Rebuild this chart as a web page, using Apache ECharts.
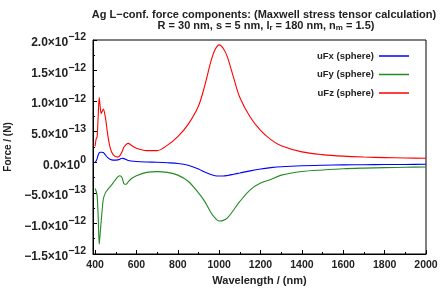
<!DOCTYPE html>
<html>
<head>
<meta charset="utf-8">
<script src="https://cdn.jsdelivr.net/npm/echarts@6/dist/echarts.min.js"></script>
<style>
html, body { margin: 0; padding: 0; background: #fff; }
#chart { width: 440px; height: 288px; }
</style>
</head>
<body>
<div id="chart"></div>
<script>
// wavelength in nm, forces in units of 1e-12 N
var wavelength = [400, 405, 410, 415, 420, 425, 430, 440, 450, 460, 470, 480, 495, 510, 520, 530, 540, 550, 560, 575,
  600, 650, 700, 750, 800, 850, 900, 930, 960, 980, 1000, 1020, 1040, 1070, 1100, 1150, 1200, 1250, 1300,
  1400, 1500, 1600, 1700, 1800, 1900, 2000];
var uFx = [0.0, 0.02, 0.06, 0.12, 0.155, 0.165, 0.165, 0.16, 0.12, 0.08, 0.055, 0.04, 0.035, 0.04, 0.05, 0.065, 0.06, 0.045, 0.03, 0.02,
  0.012, 0.005, 0.0, -0.008, -0.02, -0.05, -0.11, -0.16, -0.2, -0.22, -0.225, -0.225, -0.215, -0.195, -0.175, -0.14, -0.11, -0.088, -0.072,
  -0.056, -0.048, -0.043, -0.04, -0.037, -0.035, -0.033];
var uFy = [-0.43, -0.47, -0.55, -0.88, -1.34, -1.15, -0.95, -0.6, -0.5, -0.45, -0.41, -0.37, -0.3, -0.24, -0.22, -0.25, -0.35, -0.36, -0.32, -0.27,
  -0.22, -0.165, -0.152, -0.165, -0.21, -0.31, -0.5, -0.64, -0.82, -0.91, -0.96, -0.95, -0.91, -0.78, -0.64, -0.45, -0.34, -0.28, -0.21,
  -0.15, -0.125, -0.105, -0.095, -0.088, -0.082, -0.077];
var uFz = [0.26, 0.38, 0.42, 0.75, 1.06, 0.9, 0.8, 0.87, 0.73, 0.48, 0.28, 0.17, 0.1, 0.085, 0.11, 0.17, 0.25, 0.29, 0.31, 0.28,
  0.23, 0.19, 0.19, 0.28, 0.42, 0.62, 0.92, 1.25, 1.65, 1.84, 1.92, 1.86, 1.72, 1.38, 1.06, 0.74, 0.52, 0.37, 0.27,
  0.17, 0.125, 0.1, 0.086, 0.077, 0.07, 0.065];

var xTicks = [400, 600, 800, 1000, 1200, 1400, 1600, 1800, 2000];
var xMinorTicks = [500, 700, 900, 1100, 1300, 1500, 1700, 1900];
var yTickValues = [-1.5, -1.0, -0.5, 0, 0.5, 1.0, 1.5, 2.0];
var yMantissa = ['\u22121.5', '\u22121.0', '\u22125.0', '0.0', '5.0', '1.0', '1.5', '2.0'];
var yExponent = ['\u221212', '\u221212', '\u221213', '0', '\u221213', '\u221212', '\u221212', '\u221212'];

function pairs(ys) {
  return wavelength.map(function (w, i) { return [w, ys[i]]; });
}

var font = 'Liberation Sans, Arial, sans-serif';
var black = '#000';
var ink = '#222';

var chart = echarts.init(document.getElementById('chart'));
chart.setOption({
  animation: false,
  textStyle: { fontFamily: font },
  title: [
    {
      text: 'Ag L\u2212conf. force components: (Maxwell stress tensor calculation)',
      left: 259, top: 4, textAlign: 'center',
      textStyle: { fontSize: 11, fontWeight: 'bold', color: ink, fontFamily: font }
    },
    {
      text: 'R = 30 nm, s = 5 nm, l{s|r} = 180 nm, n{s|m} = 1.5)',
      left: 261, top: 14, textAlign: 'center',
      textStyle: {
        fontSize: 11, fontWeight: 'bold', color: ink, fontFamily: font,
        rich: { s: { fontSize: 8, fontWeight: 'bold', color: ink, padding: [5, 0, 0, 0] } }
      }
    }
  ],
  legend: {
    orient: 'vertical',
    right: 26, top: 46,
    align: 'right',
    itemWidth: 30, itemHeight: 1.5, itemGap: 8.5,
    icon: 'rect',
    textStyle: { fontSize: 9.5, fontWeight: 'bold', color: ink },
    data: ['uFx (sphere)', 'uFy (sphere)', 'uFz (sphere)']
  },
  grid: {
    left: 93, right: 14, top: 40, bottom: 34,
    outerBoundsMode: 'none',
    show: true, borderColor: black, borderWidth: 1
  },
  xAxis: [
    {
      type: 'value', min: 390, max: 2000,
      name: 'Wavelength / (nm)', nameLocation: 'middle', nameGap: 21,
      nameTextStyle: { fontSize: 11, fontWeight: 'bold', color: ink },
      axisLine: { onZero: false, lineStyle: { color: black } },
      axisTick: { inside: true, length: 4, customValues: xTicks, lineStyle: { color: black } },
      axisLabel: {
        customValues: xTicks, margin: 6, fontSize: 10.5, fontWeight: 'bold', color: ink,
        formatter: function (v) { return String(v); }
      },
      splitLine: { show: false }
    },
    {
      type: 'value', min: 390, max: 2000, position: 'bottom',
      axisLine: { show: false, onZero: false },
      axisTick: { inside: true, length: 2, customValues: xMinorTicks, lineStyle: { color: black } },
      axisLabel: { show: false },
      splitLine: { show: false }
    }
  ],
  yAxis: {
    type: 'value', min: -1.5, max: 2.0, interval: 0.5,
    name: 'Force / (N)', nameLocation: 'middle', nameGap: 76,
    nameTextStyle: { fontSize: 10, fontWeight: 'bold', color: ink },
    axisLine: { lineStyle: { color: black } },
    axisTick: { inside: true, length: 4, lineStyle: { color: black } },
    minorTick: { show: true, splitNumber: 2, length: 2, lineStyle: { color: black } },
    splitLine: { show: false },
    axisLabel: {
      margin: 7, fontSize: 11, fontWeight: 'bold', color: ink, fontFamily: font,
      formatter: function (v) {
        var i = yTickValues.findIndex(function (t) { return Math.abs(t - v) < 1e-9; });
        if (i < 0) return '';
        return '{m|' + yMantissa[i] + '\u00d710}{e|' + yExponent[i] + '}';
      },
      rich: {
        m: { fontSize: 12, fontWeight: 'bold', color: ink, fontFamily: font, padding: [6, 0, 0, 0] },
        e: { fontSize: 10.5, fontWeight: 'bold', color: ink, fontFamily: font, padding: [0, 0, 5, 0] }
      }
    }
  },
  series: [
    { name: 'uFx (sphere)', type: 'line', data: pairs(uFx), showSymbol: false, smooth: 0.3, color: '#0000ff', lineStyle: { width: 1.1 } },
    { name: 'uFy (sphere)', type: 'line', data: pairs(uFy), showSymbol: false, smooth: 0.3, color: '#228b22', lineStyle: { width: 1.1 } },
    { name: 'uFz (sphere)', type: 'line', data: pairs(uFz), showSymbol: false, smooth: 0.3, color: '#ff0000', lineStyle: { width: 1.1 } }
  ]
});
</script>
</body>
</html>
